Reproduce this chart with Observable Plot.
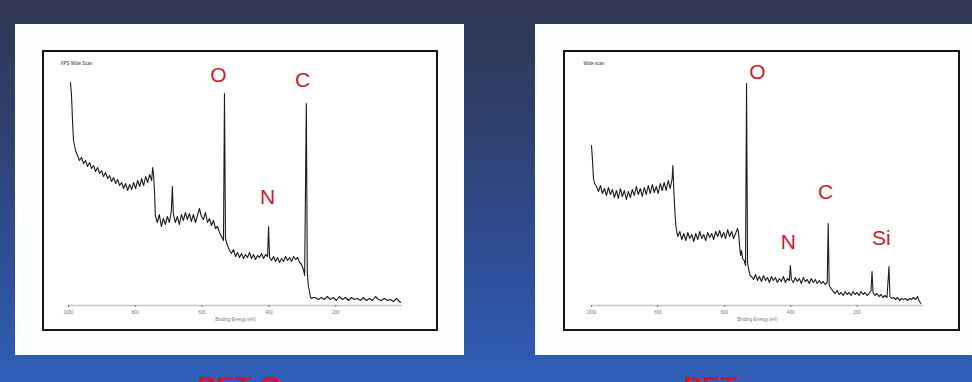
<!DOCTYPE html>
<html><head><meta charset="utf-8">
<script src="https://cdn.jsdelivr.net/npm/d3@7"></script>
<script src="https://cdn.jsdelivr.net/npm/@observablehq/plot@0.6"></script>
<style>
html,body{margin:0;padding:0;}
body{width:972px;height:382px;overflow:hidden;position:relative;
 background:linear-gradient(to bottom,#2f3753 0%,#2f3a5c 12%,#2f4170 35%,#2f4f98 70%,#305fb8 100%);
 font-family:"Liberation Sans",Arial,sans-serif;}
.panel{position:absolute;background:#fdfefe;}
.frame{position:absolute;box-sizing:border-box;border:2px solid #151515;background:#fff;}
.frame svg{display:block;}
.cap{position:absolute;color:#d3142c;font-size:28px;font-weight:bold;top:371px;white-space:nowrap;transform:translateX(-50%);}
</style>
</head><body>
<div class="panel" style="left:15px;top:24px;width:449px;height:331px;"></div>
<div class="panel" style="left:535px;top:24px;width:437px;height:331px;"></div>
<div class="frame" id="left" style="left:42px;top:50px;width:396px;height:281px;"></div>
<div class="frame" id="right" style="left:563px;top:50px;width:397px;height:281px;"></div>
<div class="cap" style="left:240px;">PET-G</div>
<div class="cap" style="left:711px;">PET</div>
<script>
const xTicks = [1000, 800, 600, 400, 200];
const xLabel = "Binding Energy (eV)";

const leftTitle = "XPS Wide Scan";
const leftEnergy = [994,991,988,985,979,973,967,961,955,949,943,937,931,925,919,913,907,901,895,889,883,877,871,865,859,853,847,841,835,829,823,817,811,805,799,793,787,781,775,769,763,757,751,748,745,742,740,734,728,722,716,710,704,698,692,689,686,680,674,668,662,656,650,644,638,632,626,620,614,608,602,596,590,584,578,572,566,560,554,548,542,536,533,530,524,518,512,506,500,494,488,482,476,470,464,458,452,446,440,434,428,422,416,410,404,401,398,392,386,380,374,368,362,356,350,344,338,332,326,320,314,308,302,296,293,288,285,282,279,276,273,267,261,252,243,234,225,216,207,198,189,180,171,162,153,144,135,126,117,108,99,90,81,72,63,54,45,36,27,18,9,6];
const leftIntensity = [223,210,185,165,155,150,145,148,142,145,139,143,137,140,134,138,132,135,129,133,127,130,124,128,122,126,120,123,117,122,115,121,116,123,117,125,119,127,120,129,123,131,125,138,130,110,90,83,91,79,87,81,89,83,95,119,91,83,89,81,91,85,93,86,92,84,91,83,90,97,89,86,93,83,87,80,85,77,79,73,69,65,212,67,60,55,52,56,49,53,48,52,47,51,48,53,47,51,46,50,48,52,47,51,49,79,48,45,49,44,48,43,47,44,49,45,48,44,49,46,48,43,41,35,30,202,33,20,15,9,7,8,8,6,8,6,9,6,8,5,9,6,8,5,8,6,7,5,8,5,7,5,9,6,5,7,5,6,4,7,4,3];
const leftPeakText = ["O", "N", "C"];
const leftPeakEnergy = [551, 404, 299];
const leftPeakIntensity = [230, 108, 225];

const rightTitle = "Wide scan";
const rightEnergy = [1000,997,994,991,985,979,973,967,961,955,949,943,937,931,925,919,913,907,901,895,889,883,877,871,865,859,853,847,841,835,829,823,817,811,805,799,793,787,781,775,769,763,757,755,752,749,746,743,740,734,728,722,716,710,704,698,692,686,680,674,668,662,656,650,644,638,632,626,620,614,608,602,596,590,584,578,572,566,560,557,554,551,548,545,540,536,533,530,526,522,518,512,506,500,494,488,482,476,470,464,458,452,446,440,434,428,422,416,410,404,401,398,392,386,380,374,368,362,356,350,344,338,332,326,320,314,308,302,296,290,287,284,278,272,266,260,254,248,242,236,230,224,218,212,206,200,194,188,182,176,170,164,158,155,152,146,140,134,128,122,116,110,104,101,96,90,84,78,72,66,60,54,48,42,36,30,24,18,14,10,8];
const rightIntensity = [160,145,127,122,119,114,120,112,117,110,118,111,116,108,115,107,117,109,115,106,114,108,116,110,119,111,117,109,118,111,120,112,121,113,119,112,122,115,123,115,125,117,127,140,115,95,80,73,69,74,66,72,65,73,67,71,64,72,66,74,67,71,65,73,68,72,66,74,69,75,68,73,67,76,69,74,67,72,77,73,60,50,55,47,45,40,222,43,35,30,29,26,31,25,29,24,30,25,28,23,29,25,28,23,27,24,29,23,27,25,40,26,23,28,24,27,22,28,24,26,22,27,23,26,22,25,22,24,21,23,82,20,17,14,12,15,11,13,10,14,11,13,10,14,11,13,10,14,11,13,10,12,15,34,13,10,12,9,11,8,10,8,39,9,7,8,6,8,5,7,6,7,5,7,6,8,6,9,5,3,2];
const rightPeakText = ["O", "N", "C", "Si"];
const rightPeakEnergy = [500, 407, 295, 127];
const rightPeakIntensity = [233, 63, 113, 67];

function spectrum(energy, intensity, pText, pE, pI, title, w, ml, mr) {
  const data = energy.map((e, i) => ({e, v: intensity[i]}));
  const labels = pText.map((t, i) => ({t, e: pE[i], v: pI[i]}));
  return Plot.plot({
    width: w, height: 277,
    marginLeft: ml, marginRight: mr, marginTop: 3, marginBottom: 24,
    style: {background: "transparent", fontFamily: "'Liberation Sans', Arial, sans-serif", overflow: "visible"},
    x: {domain: [1000, 0]},
    y: {domain: [0, 250], axis: null},
    marks: [
      Plot.ruleY([0], {stroke: "#c4c4c4", strokeWidth: 1.3}),
      Plot.axisX({ticks: xTicks, tickFormat: d => String(d), tickSize: 2, tickPadding: 3, fontSize: 4.5, color: "#777",
        label: xLabel, labelAnchor: "center", labelArrow: "none", labelOffset: 15}),
      Plot.line(data, {x: "e", y: "v", stroke: "#1c1c1c", strokeWidth: 1.1}),
      Plot.text(labels, {x: "e", y: "v", text: "t", fill: "#cc1a2e", fontSize: 21}),
      Plot.text([title], {frameAnchor: "top-left", dx: -8, dy: 6, fontSize: 4.5, fill: "#333", textAnchor: "start"})
    ]
  });
}

document.getElementById("left").append(
  spectrum(leftEnergy, leftIntensity, leftPeakText, leftPeakEnergy, leftPeakIntensity, leftTitle, 392, 24, 34));
document.getElementById("right").append(
  spectrum(rightEnergy, rightIntensity, rightPeakText, rightPeakEnergy, rightPeakIntensity, rightTitle, 393, 26, 35));
</script>
</body></html>
